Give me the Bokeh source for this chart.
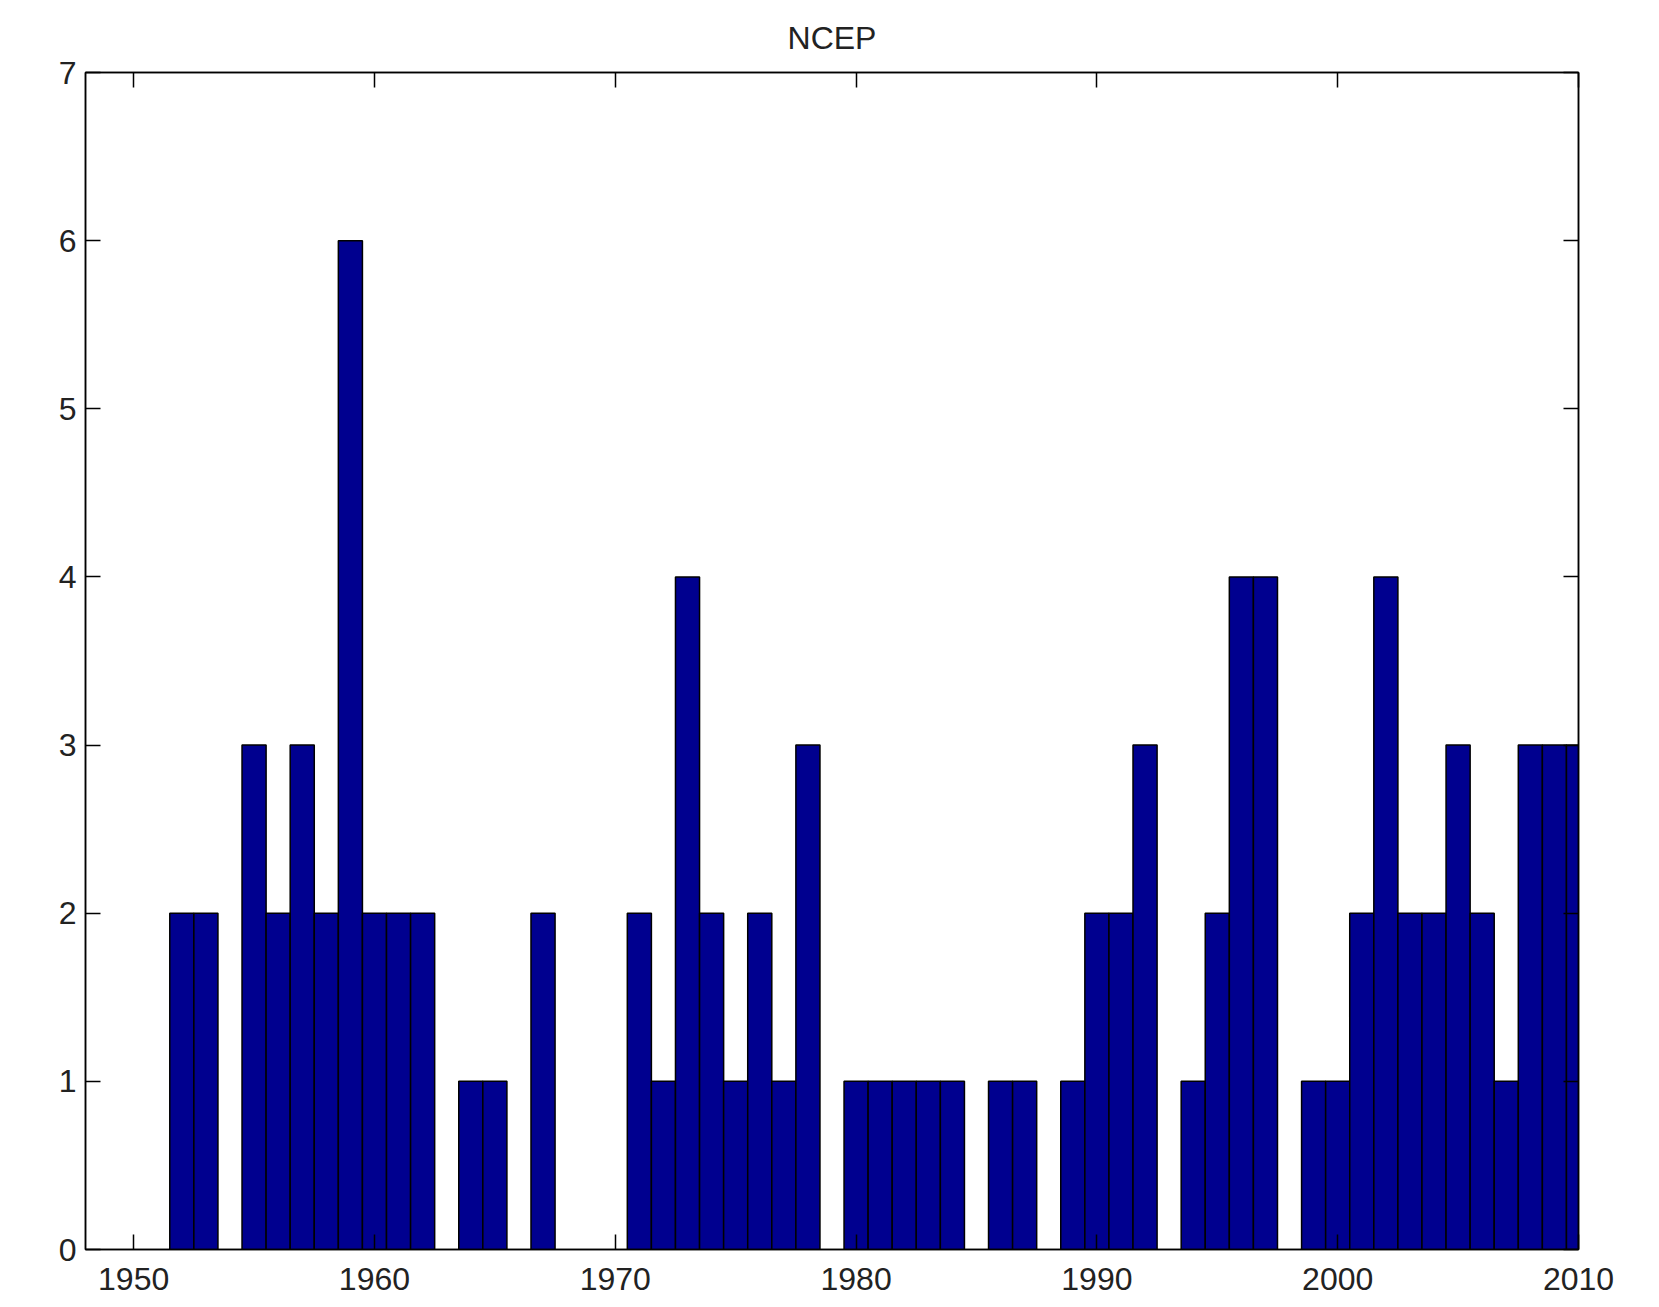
from bokeh.plotting import figure
from bokeh.models import LinearAxis, FixedTicker, Range1d, CustomJSTickFormatter, Title
from bokeh.embed import file_html
from bokeh.resources import INLINE

years = list(range(1950, 2011))
counts = [0, 0, 2, 2, 0, 3, 2, 3, 2, 6,
          2, 2, 2, 0, 1, 1, 0, 2, 0, 0,
          0, 2, 1, 4, 2, 1, 2, 1, 3, 0,
          1, 1, 1, 1, 1, 0, 1, 1, 0, 1,
          2, 2, 3, 0, 1, 2, 4, 4, 0, 1,
          1, 2, 4, 2, 2, 3, 2, 1, 3, 3,
          3]
x_ticks = [1950, 1960, 1970, 1980, 1990, 2000, 2010]
y_ticks = [0, 1, 2, 3, 4, 5, 6, 7]
title_text = "NCEP"

FONT = "Liberation Sans"
FS = "32px"

W, H = 1650, 1306
L, T = 85, 71
FW, FH = 1493, 1178

p = figure(width=W, height=H, output_backend="svg", toolbar_location=None,
           x_range=Range1d(1948, 2010), y_range=Range1d(0, 7),
           x_axis_location=None, y_axis_location=None,
           min_border_left=L, min_border_right=W - L - FW,
           min_border_top=T, min_border_bottom=H - T - FH)
p.grid.visible = False
p.outline_line_color = "black"
p.outline_line_width = 1.5
p.background_fill_color = "white"
p.border_fill_color = "white"

bx = [y for y, c in zip(years, counts) if c > 0]
bt = [c for c in counts if c > 0]
p.vbar(x=bx, top=bt, bottom=0, width=1, fill_color="#00008F", line_color="black", line_width=1.5)

def mk_axis(loc, ticks, labels=True):
    ax = LinearAxis(ticker=FixedTicker(ticks=ticks))
    ax.axis_line_color = "black"
    ax.axis_line_width = 1.5
    ax.major_tick_in = 15
    ax.major_tick_out = 0
    ax.major_tick_line_width = 1.5
    ax.minor_tick_line_color = None
    ax.major_label_text_font = FONT
    ax.major_label_text_font_size = FS
    ax.major_label_text_color = "#222222"
    if not labels:
        ax.formatter = CustomJSTickFormatter(code="return ''")
        ax.major_label_text_font_size = "0px"
        ax.major_label_standoff = 0
    p.add_layout(ax, loc)
    return ax

bot = mk_axis("below", x_ticks)
bot.major_label_standoff = 18
lef = mk_axis("left", y_ticks)
lef.major_label_standoff = 9
mk_axis("above", x_ticks, labels=False)
mk_axis("right", y_ticks, labels=False)

t = Title(text=title_text, align="center", text_font=FONT, text_font_size=FS,
          text_font_style="normal", text_color="#222222", standoff=34)
p.add_layout(t, "above")

open("out.html", "w").write(file_html(p, INLINE))
